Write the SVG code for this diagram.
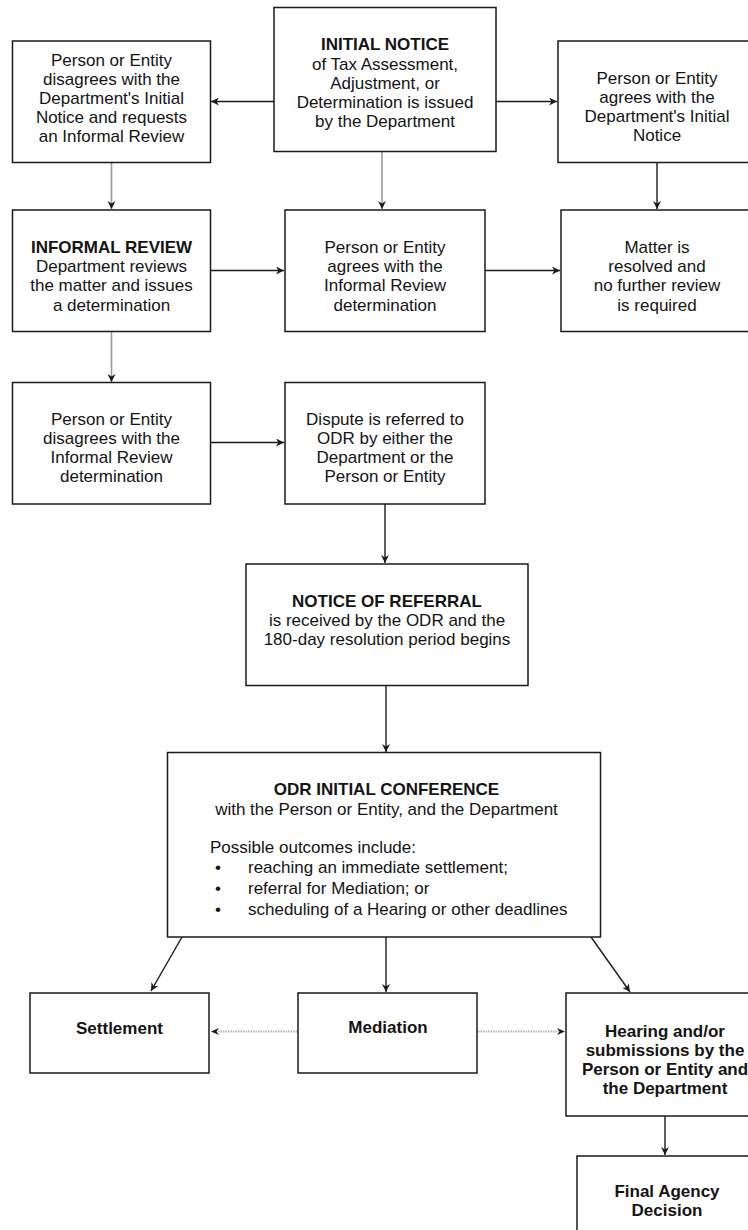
<svg xmlns="http://www.w3.org/2000/svg" width="748" height="1230" viewBox="0 0 748 1230">
<style>
  .box { fill: #ffffff; stroke: #1a1a1a; stroke-width: 1.5; }
  text { font-family: "Liberation Sans", Arial, sans-serif; font-size: 17px; fill: #141414; }
  .c { text-anchor: middle; }
  .b { font-weight: bold; }
  .ln { fill: none; stroke: #1a1a1a; stroke-width: 1.4; }
  .gray { fill: none; stroke: #9a9a9a; stroke-width: 1.6; }
  .dot { fill: none; stroke: #b4b4b4; stroke-width: 2; stroke-dasharray: 1.5 1; }
</style>
<defs>
  <marker id="ah" viewBox="0 0 10 10" refX="10" refY="5" markerWidth="8" markerHeight="8" markerUnits="userSpaceOnUse" orient="auto">
    <path d="M0,0 L10,5 L0,10 L3,5 z" fill="#1a1a1a"/>
  </marker>
</defs>
<rect width="748" height="1230" fill="#ffffff"/>

<g id="connectors">
  <line class="ln" x1="274" y1="101.5" x2="211" y2="101.5" marker-end="url(#ah)"/>
  <line class="ln" x1="496" y1="101.5" x2="557" y2="101.5" marker-end="url(#ah)"/>
  <line class="gray" x1="111.5" y1="163" x2="111.5" y2="209" marker-end="url(#ah)"/>
  <line class="gray" x1="382" y1="152" x2="382" y2="209" marker-end="url(#ah)"/>
  <line class="ln" x1="657" y1="163" x2="657" y2="209" marker-end="url(#ah)"/>
  <line class="ln" x1="211" y1="270.5" x2="284" y2="270.5" marker-end="url(#ah)"/>
  <line class="ln" x1="485" y1="270.5" x2="560" y2="270.5" marker-end="url(#ah)"/>
  <line class="gray" x1="111.5" y1="332" x2="111.5" y2="382" marker-end="url(#ah)"/>
  <line class="ln" x1="211" y1="442.5" x2="284" y2="442.5" marker-end="url(#ah)"/>
  <line class="ln" x1="385" y1="504" x2="385" y2="563" marker-end="url(#ah)"/>
  <line class="ln" x1="386" y1="686" x2="386" y2="752" marker-end="url(#ah)"/>
  <line class="ln" x1="182" y1="937" x2="151" y2="991" marker-end="url(#ah)"/>
  <line class="ln" x1="386" y1="937" x2="386" y2="992" marker-end="url(#ah)"/>
  <line class="ln" x1="591" y1="937" x2="630" y2="992" marker-end="url(#ah)"/>
  <line class="dot" x1="297" y1="1031.5" x2="212" y2="1031.5"/>
  <path d="M219,1028 L211,1031.5 L219,1035 L216.5,1031.5 z" fill="#1a1a1a"/>
  <line class="dot" x1="478" y1="1031.5" x2="560" y2="1031.5"/>
  <path d="M557,1028 L565,1031.5 L557,1035 L559.5,1031.5 z" fill="#1a1a1a"/>
  <line class="ln" x1="665" y1="1116" x2="665" y2="1155" marker-end="url(#ah)"/>
</g>

<g id="initial-notice">
  <rect class="box" x="274" y="7.5" width="222" height="144"/>
  <text class="c b" x="385" y="50">INITIAL NOTICE</text>
  <text class="c" x="385" y="70">of Tax Assessment,</text>
  <text class="c" x="385" y="89">Adjustment, or</text>
  <text class="c" x="385" y="108">Determination is issued</text>
  <text class="c" x="385" y="127">by the Department</text>
</g>

<g id="disagrees-initial">
  <rect class="box" x="12.5" y="41" width="198" height="121.5"/>
  <text class="c" x="111.5" y="65.5">Person or Entity</text>
  <text class="c" x="111.5" y="84.5">disagrees with the</text>
  <text class="c" x="111.5" y="103.5">Department's Initial</text>
  <text class="c" x="111.5" y="122.5">Notice and requests</text>
  <text class="c" x="111.5" y="141.5">an Informal Review</text>
</g>

<g id="agrees-initial">
  <rect class="box" x="558" y="41" width="200" height="121.5"/>
  <text class="c" x="657" y="84">Person or Entity</text>
  <text class="c" x="657" y="103">agrees with the</text>
  <text class="c" x="657" y="122">Department's Initial</text>
  <text class="c" x="657" y="141">Notice</text>
</g>

<g id="informal-review">
  <rect class="box" x="12.5" y="210" width="198" height="121.5"/>
  <text class="c b" x="111.5" y="253">INFORMAL REVIEW</text>
  <text class="c" x="111.5" y="272">Department reviews</text>
  <text class="c" x="111.5" y="291">the matter and issues</text>
  <text class="c" x="111.5" y="311">a determination</text>
</g>

<g id="agrees-review">
  <rect class="box" x="285" y="210" width="200" height="121.5"/>
  <text class="c" x="385" y="253">Person or Entity</text>
  <text class="c" x="385" y="272">agrees with the</text>
  <text class="c" x="385" y="291">Informal Review</text>
  <text class="c" x="385" y="311">determination</text>
</g>

<g id="resolved">
  <rect class="box" x="561" y="210" width="200" height="121.5"/>
  <text class="c" x="657" y="253">Matter is</text>
  <text class="c" x="657" y="272">resolved and</text>
  <text class="c" x="657" y="291">no further review</text>
  <text class="c" x="657" y="311">is required</text>
</g>

<g id="disagrees-review">
  <rect class="box" x="12.5" y="382.5" width="198" height="121.5"/>
  <text class="c" x="111.5" y="425">Person or Entity</text>
  <text class="c" x="111.5" y="444">disagrees with the</text>
  <text class="c" x="111.5" y="463">Informal Review</text>
  <text class="c" x="111.5" y="482">determination</text>
</g>

<g id="dispute-referred">
  <rect class="box" x="285" y="382.5" width="200" height="121.5"/>
  <text class="c" x="385" y="425">Dispute is referred to</text>
  <text class="c" x="385" y="444">ODR by either the</text>
  <text class="c" x="385" y="463">Department or the</text>
  <text class="c" x="385" y="482">Person or Entity</text>
</g>

<g id="notice-of-referral">
  <rect class="box" x="246" y="564" width="282" height="121.5"/>
  <text class="c b" x="387" y="606.5">NOTICE OF REFERRAL</text>
  <text class="c" x="387" y="626">is received by the ODR and the</text>
  <text class="c" x="387" y="645">180-day resolution period begins</text>
</g>

<g id="odr-conference">
  <rect class="box" x="167.5" y="752.5" width="433" height="184.5"/>
  <text class="c b" x="386.5" y="795">ODR INITIAL CONFERENCE</text>
  <text class="c" x="386.5" y="815">with the Person or Entity, and the Department</text>
  <text x="210" y="853">Possible outcomes include:</text>
  <text x="215" y="873">•</text>
  <text x="248" y="873">reaching an immediate settlement;</text>
  <text x="215" y="894">•</text>
  <text x="248" y="894">referral for Mediation; or</text>
  <text x="215" y="915">•</text>
  <text x="248" y="915">scheduling of a Hearing or other deadlines</text>
</g>

<g id="settlement">
  <rect class="box" x="30" y="993" width="179" height="80"/>
  <text class="c b" x="119.5" y="1034">Settlement</text>
</g>

<g id="mediation">
  <rect class="box" x="298" y="993" width="179" height="80"/>
  <text class="c b" x="388" y="1033">Mediation</text>
</g>

<g id="hearing">
  <rect class="box" x="566" y="993" width="200" height="123"/>
  <text class="c b" x="665" y="1037">Hearing and/or</text>
  <text class="c b" x="665" y="1056">submissions by the</text>
  <text class="c b" x="665" y="1075">Person or Entity and</text>
  <text class="c b" x="665" y="1094">the Department</text>
</g>

<g id="final-decision">
  <rect class="box" x="577" y="1156" width="185" height="90"/>
  <text class="c b" x="667" y="1197">Final Agency</text>
  <text class="c b" x="667" y="1216">Decision</text>
</g>
</svg>
